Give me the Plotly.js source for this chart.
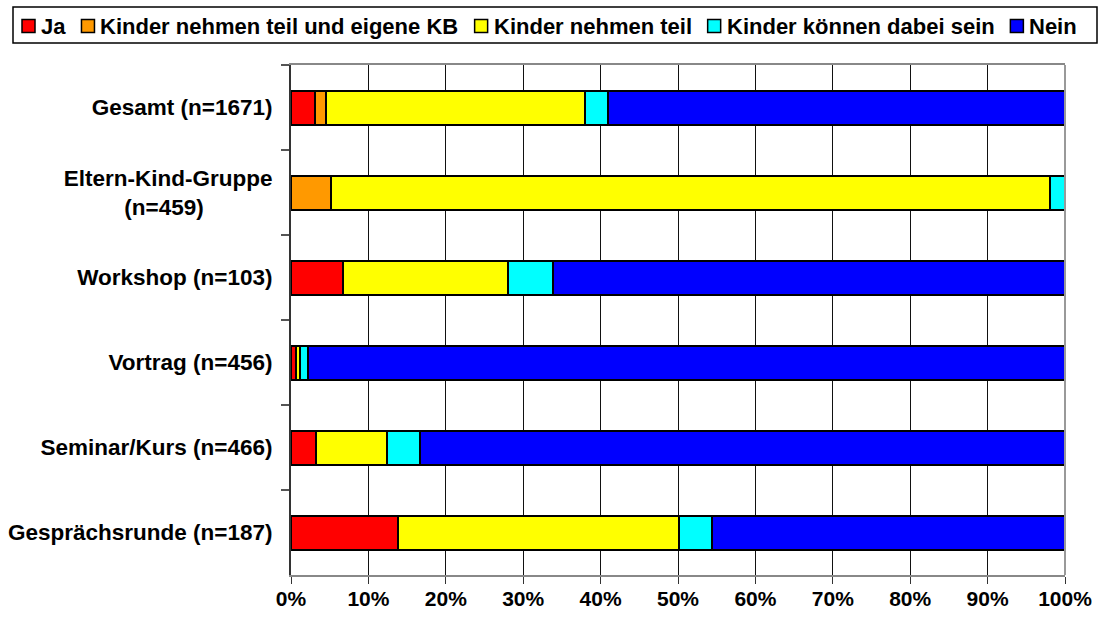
<!DOCTYPE html>
<html>
<head>
<meta charset="utf-8">
<script src="https://cdn.plot.ly/plotly-3.0.1.min.js"></script>
<style>html,body{margin:0;padding:0;background:#fff;}#chart{width:1098px;height:619px;}</style>
</head>
<body>
<div id="chart"></div>
<script>
var categories = ['Gesamt (n=1671)', 'Eltern-Kind-Gruppe<br>(n=459)\u00A0\u00A0\u00A0\u00A0\u00A0\u00A0\u00A0\u00A0\u00A0\u00A0\u00A0', 'Workshop (n=103)', 'Vortrag (n=456)', 'Seminar/Kurs (n=466)', 'Gesprächsrunde (n=187)'];
var seriesNames = ['Ja', 'Kinder nehmen teil und eigene KB', 'Kinder nehmen teil', 'Kinder können dabei sein', 'Nein'];
var seriesColors = ['#FF0000', '#FF9900', '#FFFF00', '#00FFFF', '#0000FF'];
var ja = [3.1, null, 6.7, 0.7, 3.2, 13.8];
var teilEigeneKB = [1.4, 5.2, null, null, null, null];
var teil = [33.5, 92.9, 21.4, 0.4, 9.2, 36.3];
var dabei = [2.9, 1.9, 5.8, 1.1, 4.3, 4.3];
var nein = [59.1, null, 66.1, 97.8, 83.3, 45.6];
var xTicks = [0, 10, 20, 30, 40, 50, 60, 70, 80, 90, 100];

var seriesValues = [ja, teilEigeneKB, teil, dabei, nein];
var FAMILY = 'Liberation Sans, Arial, sans-serif';
var font = {family: FAMILY, color: '#000', weight: 'bold'};

var W = 1098, H = 619;
var M = {l: 291, r: 33, t: 65, b: 44};
var plotW = W - M.l - M.r, plotH = H - M.t - M.b;
function px2x(px) { return (px - M.l) / plotW; }
function px2y(py) { return (H - M.b - py) / plotH; }

var traces = seriesValues.map(function (vals, i) {
  return {
    type: 'bar', orientation: 'h', name: seriesNames[i],
    x: vals, y: categories,
    marker: {color: seriesColors[i], line: {color: '#000', width: 2}}
  };
});

// custom one-row legend (as in the reference)
var legendFontSize = 22;
var cv = document.createElement('canvas').getContext('2d');
cv.font = 'bold ' + legendFontSize + 'px "Liberation Sans", Arial, sans-serif';
var shapes = [];
var annotations = [];
var lx = 22, symTop = 19.5, symSize = 13, midY = 26;
shapes.push({type: 'rect', xref: 'paper', yref: 'paper', x0: px2x(13), x1: px2x(1097), y0: px2y(7), y1: px2y(43),
  line: {color: '#000', width: 1.5}, fillcolor: 'rgba(0,0,0,0)', layer: 'above'});
seriesNames.forEach(function (name, i) {
  shapes.push({type: 'rect', xref: 'paper', yref: 'paper', x0: px2x(lx), x1: px2x(lx + symSize),
    y0: px2y(symTop), y1: px2y(symTop + symSize), fillcolor: seriesColors[i], line: {color: '#000', width: 1.5}});
  annotations.push({xref: 'paper', yref: 'paper', x: px2x(lx + symSize + 4), y: px2y(midY),
    xanchor: 'left', yanchor: 'middle', showarrow: false, text: name,
    font: Object.assign({size: legendFontSize}, font)});
  lx += symSize + 6 + cv.measureText(name).width + 16;
});
shapes.push({type: 'line', xref: 'paper', yref: 'paper', x0: 1, x1: 1, y0: 0, y1: 1, line: {color: '#999', width: 2}});

var layout = {
  width: W, height: H,
  barmode: 'stack', bargap: 0.6,
  paper_bgcolor: '#fff', plot_bgcolor: '#fff',
  margin: M,
  showlegend: false,
  xaxis: {
    range: [0, 100], tickvals: xTicks, ticktext: xTicks.map(function (v) { return v + '%'; }),
    showgrid: true, gridcolor: '#111', gridwidth: 1,
    showline: true, linecolor: '#888', linewidth: 2, mirror: true,
    ticks: 'outside', ticklen: 7, tickcolor: '#333', tickwidth: 1,
    zeroline: false, fixedrange: true, ticklabelstandoff: -3,
    tickfont: Object.assign({size: 21}, font)
  },
  yaxis: {
    autorange: 'reversed', type: 'category',
    showline: true, linecolor: '#333', linewidth: 2,
    ticks: 'outside', tickson: 'boundaries', ticklen: 8, tickcolor: '#555', tickwidth: 2,
    showgrid: false, zeroline: false, fixedrange: true, ticklabelstandoff: 12,
    tickfont: Object.assign({size: 22.5}, font)
  },
  shapes: shapes,
  annotations: annotations
};

Plotly.newPlot('chart', traces, layout, {displayModeBar: false, staticPlot: true});
</script>
</body>
</html>
